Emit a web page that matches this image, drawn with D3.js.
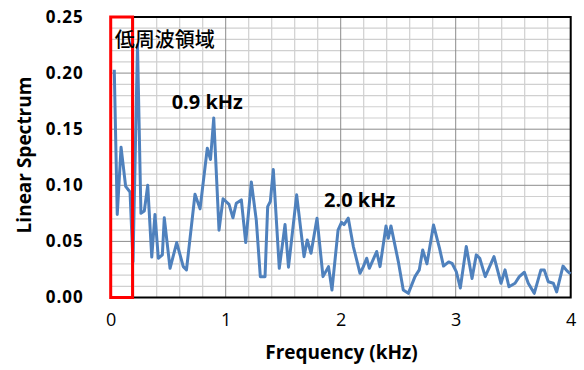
<!DOCTYPE html>
<html>
<head>
<meta charset="utf-8">
<script src="https://cdn.jsdelivr.net/npm/d3@7"></script>
<style>
  body { margin: 0; background: #fff; }
  text { font-family: "Open Sans", Lato, sans-serif; fill: #000; }
</style>
</head>
<body>
<svg id="chart" width="584" height="370"></svg>
<script>
// frequency (kHz) and linear spectrum
const freqKHz = [0.031, 0.057, 0.090, 0.130, 0.168, 0.194, 0.233, 0.263, 0.292, 0.322,
  0.357, 0.385, 0.414, 0.449, 0.466, 0.516, 0.574, 0.631, 0.659, 0.733,
  0.777, 0.840, 0.868, 0.896, 0.942, 0.977, 1.029, 1.063, 1.092, 1.136,
  1.174, 1.223, 1.266, 1.301, 1.342, 1.365, 1.388, 1.414, 1.466, 1.516,
  1.546, 1.617, 1.681, 1.709, 1.742, 1.794, 1.846, 1.894, 1.924, 1.977,
  2.007, 2.029, 2.066, 2.110, 2.168, 2.197, 2.226, 2.249, 2.313, 2.342,
  2.394, 2.414, 2.437, 2.501, 2.544, 2.588, 2.646, 2.683, 2.713, 2.750,
  2.807, 2.859, 2.894, 2.939, 2.968, 3.005, 3.040, 3.092, 3.142, 3.179,
  3.209, 3.257, 3.333, 3.394, 3.429, 3.463, 3.516, 3.553, 3.597, 3.631,
  3.683, 3.741, 3.770, 3.805, 3.849, 3.878, 3.933, 3.968, 3.998];
const spectrum = [0.203, 0.074, 0.134, 0.099, 0.094, 0.032, 0.225, 0.075, 0.077, 0.100,
  0.036, 0.074, 0.035, 0.038, 0.071, 0.026, 0.049, 0.0275, 0.0246, 0.092,
  0.079, 0.133, 0.123, 0.160, 0.060, 0.088, 0.083, 0.071, 0.084, 0.087,
  0.049, 0.103, 0.069, 0.0186, 0.0186, 0.081, 0.0855, 0.114, 0.026, 0.065,
  0.027, 0.0915, 0.0364, 0.0513, 0.0394, 0.0707, 0.0186, 0.0275, 0.0067, 0.060,
  0.067, 0.065, 0.0707, 0.0454, 0.0216, 0.0275, 0.035, 0.026, 0.041, 0.0275,
  0.0638, 0.0528, 0.0638, 0.032, 0.0067, 0.0037, 0.0186, 0.0246, 0.0424, 0.030,
  0.0647, 0.044, 0.028, 0.0317, 0.0305, 0.023, 0.0085, 0.0454, 0.017, 0.038,
  0.035, 0.0186, 0.0364, 0.0127, 0.0246, 0.0096, 0.0127, 0.0186, 0.0225, 0.0127,
  0.0037, 0.0246, 0.0246, 0.014, 0.0127, 0.005, 0.028, 0.0237, 0.021];

const xTicks = [0, 1, 2, 3, 4];
const yTicks = [0, 0.05, 0.10, 0.15, 0.20, 0.25];
const xMinorStep = 0.2;
const yMinorStep = 0.01;

// annotations: [label, kHz, value]
const notes = [["0.9 kHz", 0.53, 0.174], ["2.0 kHz", 1.855, 0.087]];
const lowBandLabel = "低周波領域";
const lowBand = [0, 0.19];

const margin = { top: 17, right: 13.3, bottom: 72.5, left: 110.7 };
const width = 584 - margin.left - margin.right;
const height = 370 - margin.top - margin.bottom;

const svg = d3.select('#chart');
const g = svg.append('g').attr('transform', `translate(${margin.left},${margin.top})`);

const x = d3.scaleLinear().domain([0, 4]).range([0, width]);
const y = d3.scaleLinear().domain([0, 0.25]).range([height, 0]);

// grid
const xMinor = d3.range(0, 4 + 1e-9, xMinorStep);
const yMinor = d3.range(0, 0.25 + 1e-9, yMinorStep);
const isMajor = (v, step) => Math.abs(v / step - Math.round(v / step)) < 1e-6;

g.append('g').selectAll('line').data(yMinor.filter(v => !isMajor(v, 0.05))).join('line')
  .attr('x1', 0).attr('x2', width)
  .attr('y1', d => y(d)).attr('y2', d => y(d))
  .attr('stroke', '#d0d0d0').attr('stroke-width', 1.2);
g.append('g').selectAll('line').data(xMinor.filter(v => !isMajor(v, 1))).join('line')
  .attr('y1', 0).attr('y2', height)
  .attr('x1', d => x(d)).attr('x2', d => x(d))
  .attr('stroke', '#d0d0d0').attr('stroke-width', 1.2);
g.append('g').selectAll('line').data(yTicks).join('line')
  .attr('x1', 0).attr('x2', width)
  .attr('y1', d => y(d)).attr('y2', d => y(d))
  .attr('stroke', '#8c8c8c').attr('stroke-width', 1);
g.append('g').selectAll('line').data(xTicks).join('line')
  .attr('y1', 0).attr('y2', height)
  .attr('x1', d => x(d)).attr('x2', d => x(d))
  .attr('stroke', '#8c8c8c').attr('stroke-width', 1);

// plot frame: top / right / bottom
g.append('path')
  .attr('d', `M0,0H${width}V${height}H0`)
  .attr('fill', 'none').attr('stroke', '#000').attr('stroke-width', 2);

// spectrum line
const pts = freqKHz.map((f, i) => [f, spectrum[i]]);
g.append('path').datum(pts)
  .attr('fill', 'none')
  .attr('stroke', '#4f81bd')
  .attr('stroke-width', 3)
  .attr('stroke-linejoin', 'round')
  .attr('d', d3.line().x(d => x(d[0])).y(d => y(d[1])));

// low-frequency box
g.append('rect')
  .attr('x', x(lowBand[0])).attr('y', y(0.25))
  .attr('width', x(lowBand[1]) - x(lowBand[0]))
  .attr('height', y(0) - y(0.25))
  .attr('fill', 'none').attr('stroke', '#ff0000').attr('stroke-width', 3);

// axes
const xAxis = g.append('g').attr('transform', `translate(0,${height})`)
  .call(d3.axisBottom(x).tickValues(xTicks).tickFormat(d3.format('d')).tickSize(0).tickPadding(16));
xAxis.select('.domain').remove();
xAxis.selectAll('text').style('font-size', '18px').attr('fill', '#000');

const yAxis = g.append('g')
  .call(d3.axisLeft(y).tickValues(yTicks).tickFormat(d3.format('.2f')).tickSize(0).tickPadding(27));
yAxis.select('.domain').remove();
yAxis.selectAll('text').style('font-size', '17px').style('font-weight', 'bold')
  .style('letter-spacing', '1px').attr('fill', '#000');

// axis titles
svg.append('text')
  .attr('x', 341.5).attr('y', 352).attr('dy', '0.35em')
  .attr('text-anchor', 'middle')
  .style('font-size', '19px').style('font-weight', 'bold')
  .text('Frequency (kHz)');
svg.append('text')
  .attr('transform', 'translate(24,155) rotate(-90)')
  .attr('dy', '0.35em')
  .attr('text-anchor', 'middle')
  .style('font-size', '19px').style('font-weight', 'bold')
  .text('Linear Spectrum');

// annotations
g.selectAll('.note').data(notes).join('text')
  .attr('class', 'note')
  .attr('x', d => x(d[1])).attr('y', d => y(d[2])).attr('dy', '0.35em')
  .style('font-size', '20px').style('font-weight', 'bold')
  .text(d => d[0]);
g.append('text')
  .attr('x', 4).attr('y', 23).attr('dy', '0.35em')
  .style('font-family', '"Noto Sans CJK JP", sans-serif')
  .style('font-size', '20px').style('font-weight', 500)
  .text(lowBandLabel);
</script>
</body>
</html>
